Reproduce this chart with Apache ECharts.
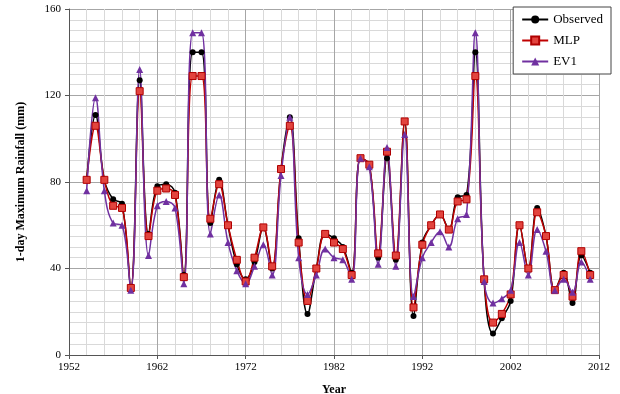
<!DOCTYPE html>
<html>
<head>
<meta charset="utf-8">
<script src="https://cdn.jsdelivr.net/npm/echarts@6/dist/echarts.min.js"></script>
<style>
  html, body { margin: 0; padding: 0; background: #fff; }
  #chart { width: 620px; height: 394px; }
</style>
</head>
<body>
<div id="chart"></div>
<script>
// years 1954 - 2011
const years = [];
for (let y = 1954; y <= 2011; y++) years.push(y);

const observed = [81, 111, 81, 72, 70, 31, 127, 56, 78, 79, 75, 37, 140, 140, 61, 81,
  60, 42, 35, 43, 59, 40, 86, 110, 54, 19, 40, 56, 54, 50, 38, 91, 88, 45, 91, 44,
  108, 18, 52, 60, 65, 58, 73, 74, 140, 34, 10, 17, 25, 60, 40, 68, 55, 30, 38, 24,
  46, 38];
const mlp = [81, 106, 81, 69, 68, 31, 122, 55, 76, 77, 74, 36, 129, 129, 63, 79,
  60, 44, 34, 45, 59, 41, 86, 106, 52, 25, 40, 56, 52, 49, 37, 91, 88, 47, 94, 46,
  108, 22, 51, 60, 65, 58, 71, 72, 129, 35, 15, 19, 28, 60, 40, 66, 55, 30, 37, 27,
  48, 37];
const ev1 = [76, 119, 76, 61, 60, 30, 132, 46, 69, 71, 68, 33, 149, 149, 56, 74,
  52, 39, 33, 41, 51, 37, 83, 110, 45, 28, 37, 49, 45, 44, 35, 91, 87, 42, 96, 41,
  102, 27, 45, 52, 57, 50, 63, 65, 149, 34, 24, 26, 30, 52, 37, 58, 48, 30, 35, 29,
  43, 35];

const serif = '"Liberation Serif", "DejaVu Serif", serif';

const chart = echarts.init(document.getElementById('chart'));

const pairs = (vals) => years.map((y, i) => [y, vals[i]]);

chart.setOption({
  animation: false,
  textStyle: { fontFamily: serif },
  grid: { left: 69, right: 21, top: 9, bottom: 39, outerBoundsMode: 'none' },
  legend: {
    orient: 'vertical',
    right: 9,
    top: 7,
    padding: [6, 8, 6, 8],
    itemGap: 8,
    itemWidth: 26,
    itemHeight: 10,
    backgroundColor: '#fff',
    borderColor: '#444',
    borderWidth: 1,
    borderRadius: 0,
    textStyle: { fontFamily: serif, fontSize: 13, color: '#000' },
    data: ['Observed', 'MLP', 'EV1']
  },
  xAxis: {
    type: 'value',
    min: 1952,
    max: 2012,
    interval: 10,
    name: 'Year',
    nameLocation: 'middle',
    nameGap: 29,
    nameTextStyle: { fontFamily: serif, fontSize: 12, fontWeight: 'bold', color: '#000' },
    axisLine: { lineStyle: { color: '#555' } },
    axisTick: { show: true, length: 4, lineStyle: { color: '#555' } },
    axisLabel: { fontFamily: serif, fontSize: 11, color: '#000', margin: 7, formatter: v => String(v) },
    splitLine: { show: true, lineStyle: { color: '#a6a6a6' } },
    minorTick: { show: false, splitNumber: 5 },
    minorSplitLine: { show: true, lineStyle: { color: '#d9d9d9' } }
  },
  yAxis: {
    type: 'value',
    min: 0,
    max: 160,
    interval: 40,
    name: '1-day Maximum Rainfall (mm)',
    nameLocation: 'middle',
    nameGap: 42,
    nameTextStyle: { fontFamily: serif, fontSize: 12, fontWeight: 'bold', color: '#000' },
    axisLine: { show: true, lineStyle: { color: '#555' } },
    axisTick: { show: true, length: 4, lineStyle: { color: '#555' } },
    axisLabel: { fontFamily: serif, fontSize: 11, color: '#000', margin: 8 },
    splitLine: { show: true, lineStyle: { color: '#a6a6a6' } },
    minorTick: { show: false, splitNumber: 8 },
    minorSplitLine: { show: true, lineStyle: { color: '#d9d9d9' } }
  },
  series: [
    {
      name: 'Observed',
      type: 'line',
      data: pairs(observed),
      smooth: 0.4,
      symbol: 'circle',
      symbolSize: 6,
      lineStyle: { color: '#000', width: 1.5 },
      itemStyle: { color: '#000' }
    },
    {
      name: 'MLP',
      type: 'line',
      data: pairs(mlp),
      smooth: 0.4,
      symbol: 'rect',
      symbolSize: 7,
      lineStyle: { color: '#c00000', width: 1.5 },
      itemStyle: { color: '#e2443e', borderColor: '#b00000', borderWidth: 1 }
    },
    {
      name: 'EV1',
      type: 'line',
      data: pairs(ev1),
      smooth: 0.4,
      symbol: 'triangle',
      symbolSize: 7,
      lineStyle: { color: '#7030a0', width: 1.5 },
      itemStyle: { color: '#7030a0' }
    }
  ]
});
</script>
</body>
</html>
